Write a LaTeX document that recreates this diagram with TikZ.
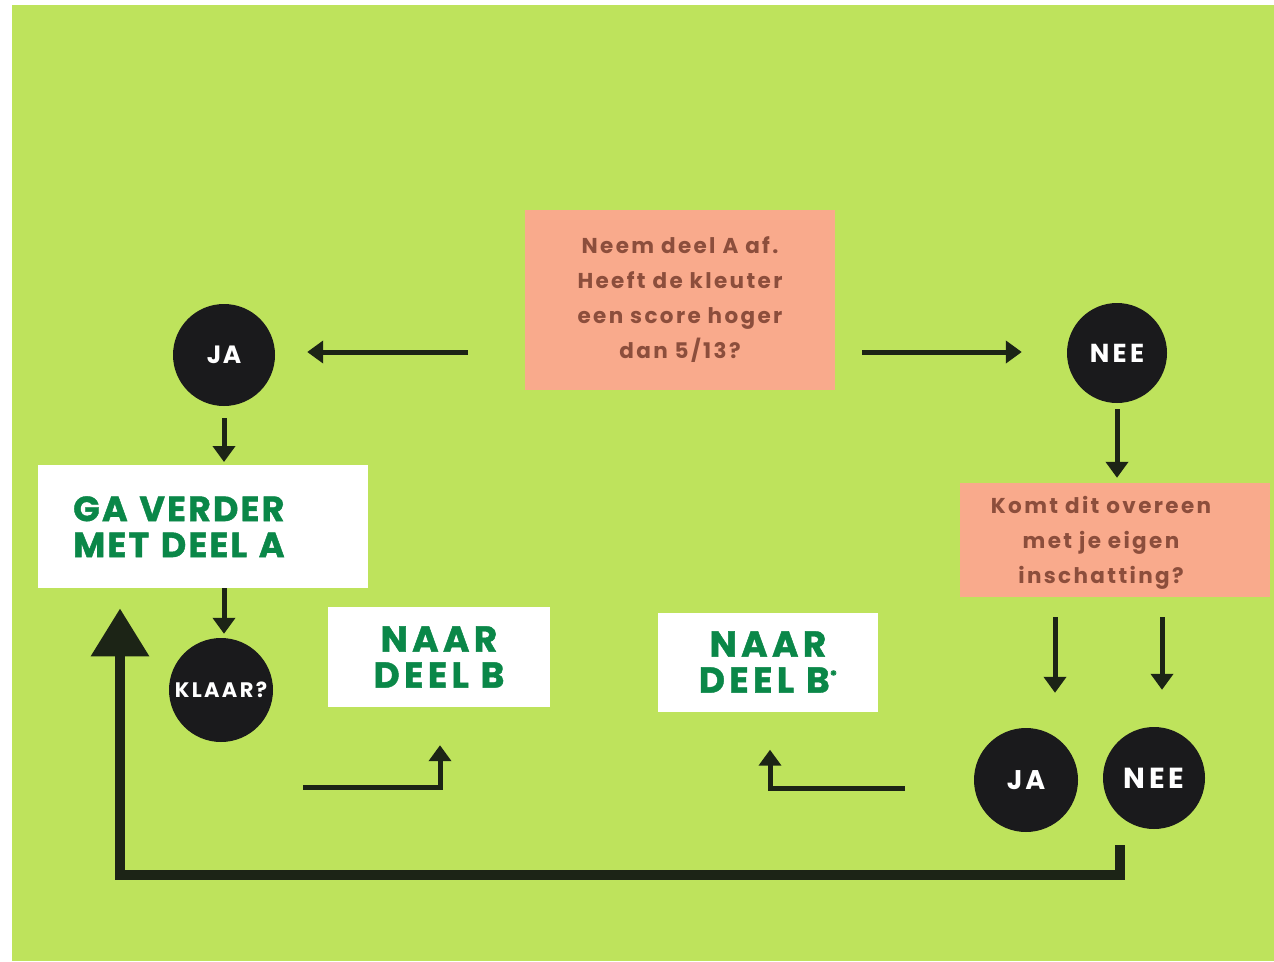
\documentclass[tikz,border=0pt]{standalone}
\usepackage{fontspec}
\setmainfont{Poppins}
\usetikzlibrary{arrows.meta}
\definecolor{bg}{RGB}{190,227,92}
\definecolor{salmon}{RGB}{249,170,140}
\definecolor{brownt}{RGB}{140,78,60}
\definecolor{greent}{RGB}{10,135,72}
\definecolor{dotc}{RGB}{26,26,28}
\definecolor{arrc}{RGB}{28,36,22}
\newcommand\lsp[1]{\addfontfeatures{LetterSpace=#1}}
\newcommand\fb{\addfontfeatures{FakeBold=1.2}}
\begin{document}
\begin{tikzpicture}[x=1pt,y=-1pt,
  qbox/.style={fill=salmon, text=brownt, align=center, font=\fontsize{21.5}{35}\selectfont\bfseries\lsp{11}, inner sep=0pt},
  qtext/.style={text=brownt, align=center, font=\fontsize{21.5}{35}\selectfont\bfseries\lsp{11}, inner sep=0pt},
  wbox/.style={fill=white, text=greent, align=center, inner sep=0pt},
  dot/.style={circle, fill=dotc, text=white, inner sep=0pt},
  arr/.style={draw=arrc, line width=5pt, -{Triangle[length=16pt,width=22pt]}},
  bigarr/.style={draw=arrc, line width=10pt, -{Triangle[length=48pt,width=56pt]}}
]
\useasboundingbox (0,0) rectangle (1274,961);
\fill[white] (0,0) rectangle (1274,961);
\fill[bg] (12,5) rectangle (1274,961);

% nodes
\node[qbox, minimum width=310pt, minimum height=180pt] (q1) at (680,300) {Neem deel A af.\\Heeft de kleuter\\een score hoger\\dan 5/13?};
\node[dot, minimum size=102pt, font=\fontsize{25}{27}\selectfont\bfseries\lsp{6}] (ja1) at (224,355) {JA};
\node[dot, minimum size=100pt, font=\fontsize{26}{28}\selectfont\bfseries\lsp{13}] (nee1) at (1117,353) {NEE};
\node[wbox, anchor=north west, text width=260pt, inner xsep=35pt, minimum height=123pt, align=left, font=\fontsize{35}{36}\selectfont\bfseries\fb\lsp{6}] (gaA) at (38,465) {GA VERDER\\MET DEEL A};
\node[dot, minimum size=104pt, font=\fontsize{21}{22}\selectfont\bfseries\lsp{11}] (klaar) at (221,690) {KLAAR?};
\node[wbox, minimum width=222pt, minimum height=100pt, font=\fontsize{36}{36}\selectfont\bfseries\fb\lsp{12}] (nB) at (439,657) {NAAR\\DEEL B};
\node[wbox, minimum width=220pt, minimum height=99pt, font=\fontsize{36}{36}\selectfont\bfseries\fb\lsp{12}] (nBs) at (768,662) {NAAR\\DEEL B\raisebox{12pt}{\fontsize{14}{14}\selectfont *}};
\node[qbox, minimum width=310pt, minimum height=114pt, label={[qtext, xshift=-14pt, text depth=0pt]center:Komt dit overeen\\met je eigen\\inschatting?}] (q2) at (1115,540) {};
\node[dot, minimum size=104pt, font=\fontsize{27}{28}\selectfont\bfseries\lsp{11}] (ja2) at (1026,780) {JA};
\node[dot, minimum size=102pt, font=\fontsize{29}{30}\selectfont\bfseries\lsp{14}] (nee2) at (1154,778) {NEE};

% connectors
\coordinate (l1) at (468,352);
\coordinate (r1) at (862,352);
\draw[arr, shorten >=32pt] (l1) -- (ja1.east |- l1);
\draw[arr, shorten >=45pt] (r1) -- (nee1.west |- r1);
\draw[arr, shorten <=12pt, shorten >=3pt] (ja1.south) -- (ja1.south |- gaA.north);
\draw[arr, shorten >=4pt] (ja1.south |- gaA.south) -- (ja1.south |- klaar.north);
\draw[arr, shorten <=6pt, shorten >=5pt] (nee1.south) -- (nee1.south |- q2.north);
\coordinate (d1) at (1055,617);
\coordinate (d2) at (1162,617);
\draw[arr, shorten >=35pt] (d1) -- (d1 |- ja2.north);
\draw[arr, shorten >=37pt] (d2) -- (d2 |- nee2.north);
\coordinate (k1) at (303,787);
\coordinate (k2) at (440,787);
\draw[arr, shorten >=38pt] (k1) -- (k2) -- (k2 |- nB.south);
\coordinate (j1) at (905,788);
\coordinate (j2) at (770,788);
\draw[arr, shorten >=38pt] (j1) -- (j2) -- (j2 |- nBs.south);
\coordinate (n1) at (1120,845);
\coordinate (n2) at (1120,875);
\coordinate (n3) at (120,875);
\draw[bigarr, shorten >=20pt] (n1) -- (n2) -- (n3) -- (n3 |- gaA.south);
\end{tikzpicture}
\end{document}
